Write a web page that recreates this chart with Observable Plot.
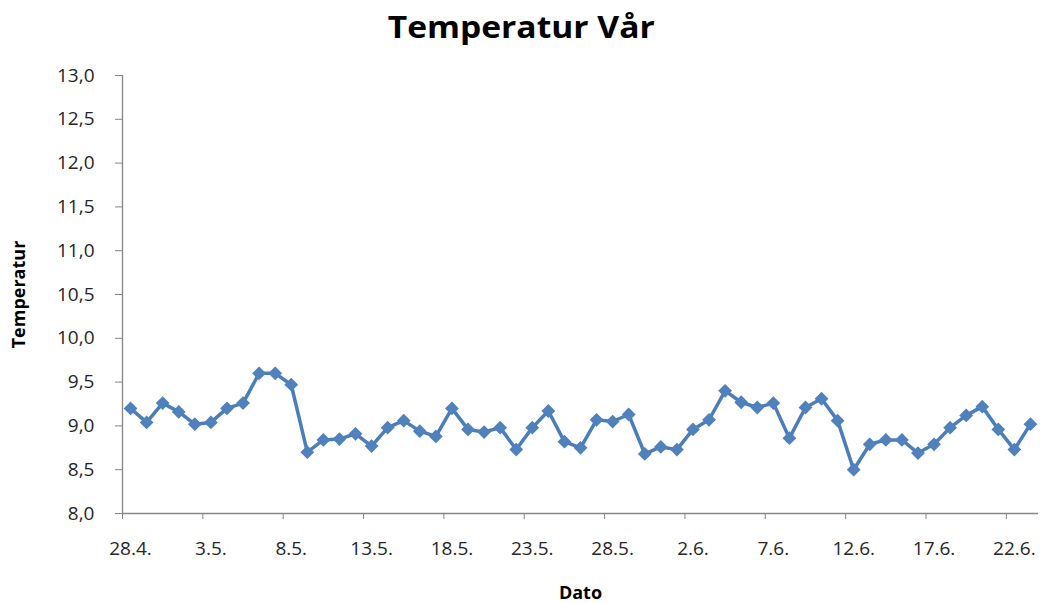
<!DOCTYPE html>
<html>
<head>
<meta charset="utf-8">
<script src="https://cdn.jsdelivr.net/npm/d3@7"></script>
<script src="https://cdn.jsdelivr.net/npm/@observablehq/plot@0.6"></script>
<style>
  html, body { margin: 0; padding: 0; background: #fff; }
  body { width: 1042px; height: 603px; overflow: hidden; font-family: "Open Sans", sans-serif; }
  #title { height: 55px; text-align: center; font-weight: bold; font-size: 30px; line-height: 30px; padding-top: 0; box-sizing: border-box; color: #000; }
  #title span { display: inline-block; transform: scaleX(1.12); padding-top: 12px; }
  #chart svg { display: block; }
</style>
</head>
<body>
<div id="title"><span>Temperatur Vår</span></div>
<div id="chart"></div>
<script>
const categories = [
  "28.4.","29.4.","30.4.",
  "1.5.","2.5.","3.5.","4.5.","5.5.","6.5.","7.5.","8.5.","9.5.","10.5.",
  "11.5.","12.5.","13.5.","14.5.","15.5.","16.5.","17.5.","18.5.","19.5.","20.5.",
  "21.5.","22.5.","23.5.","24.5.","25.5.","26.5.","27.5.","28.5.","29.5.","30.5.","31.5.",
  "1.6.","2.6.","3.6.","4.6.","5.6.","6.6.","7.6.","8.6.","9.6.","10.6.",
  "11.6.","12.6.","13.6.","14.6.","15.6.","16.6.","17.6.","18.6.","19.6.","20.6.",
  "21.6.","22.6.","23.6."
];
const temperatures = [
  9.20, 9.04, 9.26,
  9.16, 9.02, 9.04, 9.20, 9.26, 9.60, 9.60, 9.47, 8.70, 8.84,
  8.85, 8.91, 8.77, 8.98, 9.06, 8.94, 8.88, 9.20, 8.96, 8.93,
  8.98, 8.73, 8.98, 9.17, 8.82, 8.75, 9.07, 9.05, 9.13, 8.68, 8.76,
  8.73, 8.96, 9.07, 9.40, 9.27, 9.21, 9.26, 8.86, 9.21, 9.31,
  9.06, 8.50, 8.79, 8.84, 8.84, 8.69, 8.79, 8.98, 9.12, 9.22,
  8.96, 8.73, 9.02
];
const xTickLabels = ["28.4.","3.5.","8.5.","13.5.","18.5.","23.5.","28.5.","2.6.","7.6.","12.6.","17.6.","22.6."];
const yTicks = [8.0, 8.5, 9.0, 9.5, 10.0, 10.5, 11.0, 11.5, 12.0, 12.5, 13.0];
const yLabel = "Temperatur";
const xLabel = "Dato";

const data = categories.map((c, i) => ({i, cat: c, temp: temperatures[i]}));
const xDomain = [-0.5, categories.length - 0.5];
const labelIdx = xTickLabels.map(l => categories.indexOf(l));
const edgeIdx = labelIdx.map(i => i - 0.5);
const fmt = v => d3.format(".1f")(v).replace(".", ",");

const axisGray = "#868686";
const textColor = "#262626";
const blue = "#4a7ebb";

const chart = Plot.plot({
  width: 1042,
  height: 548,
  marginLeft: 122,
  marginRight: 4,
  marginTop: 20,
  marginBottom: 90,
  style: {fontFamily: "Open Sans", fontSize: "19px", background: "#fff"},
  x: {domain: xDomain, axis: null},
  y: {domain: [8, 13], axis: null},
  marks: [
    Plot.ruleX([xDomain[0]], {stroke: axisGray, strokeWidth: 1.3}),
    Plot.ruleY([8], {stroke: axisGray, strokeWidth: 1.3}),
    Plot.axisY({ticks: yTicks, tickSize: 7, tickPadding: 21, tickFormat: fmt, stroke: axisGray, fill: textColor, fontSize: 19, label: null}),
    Plot.axisX({ticks: edgeIdx, tickSize: 6, tickFormat: () => "", stroke: axisGray, label: null}),
    Plot.axisX({ticks: labelIdx, tickSize: 0, tickPadding: 28, tickFormat: i => categories[i], fill: textColor, fontSize: 19, label: null}),
    Plot.lineY(data, {x: "i", y: "temp", stroke: blue, strokeWidth: 3.5}),
    Plot.dot(data, {x: "i", y: "temp", symbol: "square", rotate: 45, r: 5.5, fill: "#4f81bd", stroke: "none"}),
    Plot.text([yLabel], {frameAnchor: "left", textAnchor: "middle", lineAnchor: "middle", rotate: -90, dx: -103, fontWeight: "bold", fontSize: 18, fill: "#000"}),
    Plot.text([xLabel], {frameAnchor: "bottom", textAnchor: "middle", lineAnchor: "middle", dy: 80, fontWeight: "bold", fontSize: 18, fill: "#000"})
  ]
});
document.getElementById("chart").appendChild(chart);
</script>
</body>
</html>
